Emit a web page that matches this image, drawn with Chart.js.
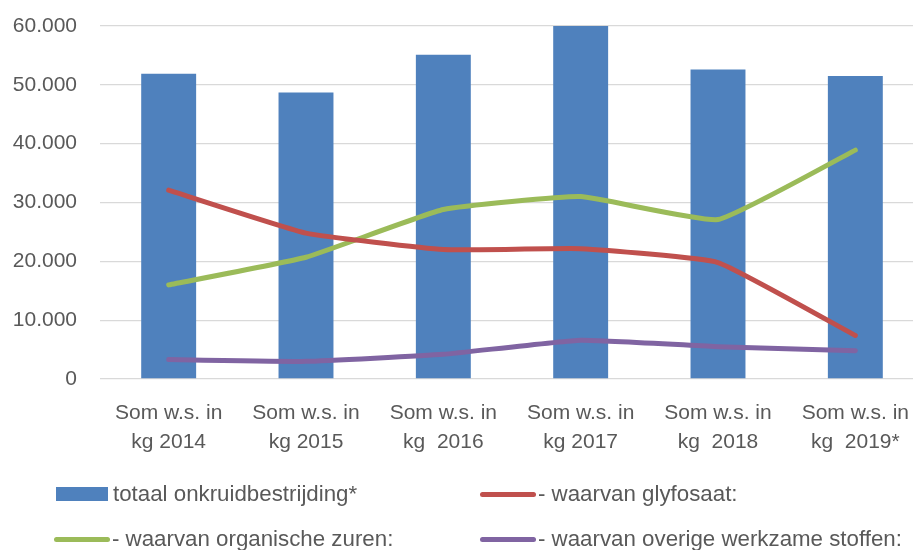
<!DOCTYPE html>
<html>
<head>
<meta charset="utf-8">
<script src="https://cdn.jsdelivr.net/npm/chart.js@4.4.1/dist/chart.umd.min.js"></script>
<style>
  html, body { margin: 0; padding: 0; background: #fff; overflow: hidden; }
  #wrap { position: relative; width: 913px; height: 550px; overflow: hidden; }
  #legend { position: absolute; left: 0; top: 0; width: 913px; height: 550px; pointer-events: none;
    font-family: "Liberation Sans", Arial, sans-serif; font-size: 22.3px; color: #595959; }
  .item { position: absolute; display: flex; align-items: center; white-space: nowrap; }
  .box { width: 52px; height: 14px; margin-right: 5px; }
  .line { width: 56px; height: 5px; border-radius: 3px; margin-right: 2px; }
</style>
</head>
<body>
<div id="wrap">
  <!-- plotgebied loopt in het origineel iets voorbij de rechterrand -->
  <canvas id="myChart" width="924" height="550"></canvas>
  <div id="legend"></div>
</div>
<script>
// categorieën (twee regels per label)
const jaren = [
    ["Som w.s. in", "kg 2014"],
    ["Som w.s. in", "kg 2015"],
    ["Som w.s. in", "kg  2016"],
    ["Som w.s. in", "kg 2017"],
    ["Som w.s. in", "kg  2018"],
    ["Som w.s. in", "kg  2019*"]
];

const totaalOnkruid = [51900, 48700, 55100, 60000, 52600, 51500];
const glyfosaat = [32100, 24800, 22000, 22150, 19800, 7400];
const organischeZuren = [16000, 20700, 28800, 31000, 27100, 38900];
const overigeStoffen = [3300, 3000, 4200, 6600, 5500, 4800];

const yTicks = [0, 10000, 20000, 30000, 40000, 50000, 60000];

const namen = [
    "totaal onkruidbestrijding*",
    "- waarvan glyfosaat:",
    "- waarvan organische zuren:",
    "- waarvan overige werkzame stoffen:"
];
const kleuren = ["#4F81BD", "#C0504D", "#9BBB59", "#8064A2"];

function formatNL(v) {
    return v.toString().replace(/\B(?=(\d{3})+(?!\d))/g, ".");
}

function lijn(label, data, kleur) {
    return {
        type: 'line',
        label: label,
        data: data,
        borderColor: kleur,
        backgroundColor: kleur,
        borderWidth: 5,
        borderCapStyle: 'round',
        borderJoinStyle: 'round',
        pointRadius: 0,
        tension: 0.12,
        fill: false,
        order: 1
    };
}

const ctx = document.getElementById('myChart').getContext('2d');
new Chart(ctx, {
    type: 'bar',
    data: {
        labels: jaren,
        datasets: [
            {
                label: namen[0],
                data: totaalOnkruid,
                backgroundColor: kleuren[0],
                borderWidth: 0,
                barPercentage: 0.4,
                categoryPercentage: 1,
                order: 2
            },
            lijn(namen[1], glyfosaat, kleuren[1]),
            lijn(namen[2], organischeZuren, kleuren[2]),
            lijn(namen[3], overigeStoffen, kleuren[3])
        ]
    },
    options: {
        responsive: false,
        animation: false,
        layout: { padding: { top: 26, left: 0, right: 0, bottom: 91 } },
        plugins: {
            legend: { display: false },
            tooltip: { enabled: false }
        },
        scales: {
            x: {
                grid: { display: false, drawTicks: false },
                border: { display: false },
                ticks: {
                    color: '#595959',
                    padding: 20,
                    maxRotation: 0,
                    autoSkip: false,
                    font: { family: '"Liberation Sans", Arial, sans-serif', size: 21, lineHeight: 1.38 }
                },
                afterFit: s => { s.height = 80; s.paddingLeft = 0; s.paddingRight = 0; }
            },
            y: {
                min: 0,
                max: 60000,
                afterBuildTicks: s => { s.ticks = yTicks.map(v => ({ value: v })); },
                grid: { color: '#D9D9D9', lineWidth: 1.3, drawTicks: false },
                border: { display: false },
                ticks: {
                    color: '#595959',
                    padding: 23,
                    font: { family: '"Liberation Sans", Arial, sans-serif', size: 21 },
                    callback: v => formatNL(v)
                },
                afterFit: s => { s.width = 100; s.paddingTop = 0; s.paddingBottom = 0; }
            }
        }
    }
});

// legenda in twee kolommen
const posities = [
    { left: 56, top: 494 },
    { left: 480, top: 494 },
    { left: 54, top: 539 },
    { left: 480, top: 539 }
];
const legend = document.getElementById('legend');
namen.forEach((naam, i) => {
    const item = document.createElement('div');
    item.className = 'item';
    item.style.left = posities[i].left + 'px';
    item.style.top = (posities[i].top - 13) + 'px';
    item.style.height = '26px';
    const mark = document.createElement('span');
    mark.className = i === 0 ? 'box' : 'line';
    mark.style.background = kleuren[i];
    const tekst = document.createElement('span');
    tekst.textContent = naam;
    item.appendChild(mark);
    item.appendChild(tekst);
    legend.appendChild(item);
});
</script>
</body>
</html>
